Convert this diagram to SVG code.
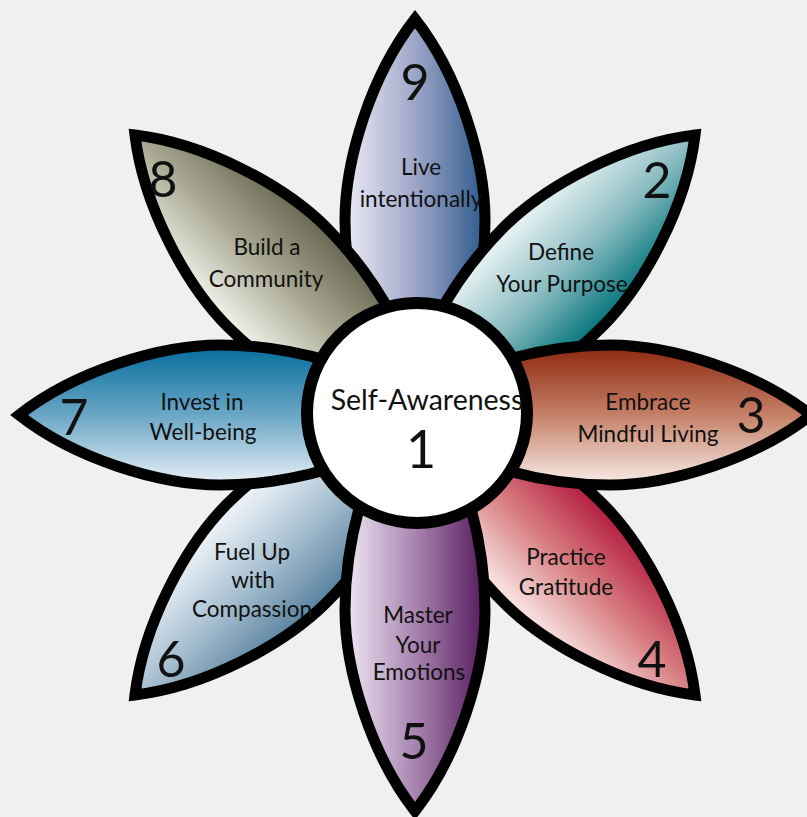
<svg xmlns="http://www.w3.org/2000/svg" width="807" height="817" viewBox="0 0 807 817">
  <defs>
    <style>
      .petal { stroke: #000; stroke-width: 11; stroke-linejoin: miter; stroke-miterlimit: 10; }
      .hub { fill: #fff; stroke: #000; stroke-width: 12; }
      text { font-family: "Lato", "Open Sans", sans-serif; fill: #111; text-anchor: middle; }
      .lbl { font-size: 22.5px; }
      .num { font-size: 50px; }
      .core { font-size: 28.5px; }
      .corenum { font-size: 52px; }
    </style>
    <!-- one petal, pointing up from the flower centre -->
    <path id="petal" d="M 0,-396 C 44,-340 70,-255 70,-195 C 70,-130 50,-40 0,20 C -50,-40 -70,-130 -70,-195 C -70,-255 -44,-340 0,-396 Z"/>
    <linearGradient id="g9" x1="0" y1="0" x2="1" y2="0">
      <stop offset="0" stop-color="#eceaf6"/>
      <stop offset="0.5" stop-color="#9ea6c8"/>
      <stop offset="1" stop-color="#2c5a8c"/>
    </linearGradient>
    <linearGradient id="g2" x1="0" y1="0" x2="1" y2="0">
      <stop offset="0" stop-color="#eef6f7"/>
      <stop offset="0.5" stop-color="#8fbfc4"/>
      <stop offset="1" stop-color="#00737a"/>
    </linearGradient>
    <linearGradient id="g3" x1="1" y1="0" x2="0" y2="0">
      <stop offset="0" stop-color="#f9ede8"/>
      <stop offset="0.5" stop-color="#c58068"/>
      <stop offset="1" stop-color="#8c260c"/>
    </linearGradient>
    <linearGradient id="g4" x1="1" y1="0" x2="0" y2="0">
      <stop offset="0" stop-color="#fcecec"/>
      <stop offset="0.5" stop-color="#d88284"/>
      <stop offset="1" stop-color="#b41a3e"/>
    </linearGradient>
    <linearGradient id="g5" x1="1" y1="0" x2="0" y2="0">
      <stop offset="0" stop-color="#f0e8f4"/>
      <stop offset="0.5" stop-color="#a884b0"/>
      <stop offset="1" stop-color="#561a5c"/>
    </linearGradient>
    <linearGradient id="g6" x1="1" y1="0" x2="0" y2="0">
      <stop offset="0" stop-color="#f4f7fb"/>
      <stop offset="0.5" stop-color="#a9c1d2"/>
      <stop offset="1" stop-color="#557f9c"/>
    </linearGradient>
    <linearGradient id="g7" x1="0" y1="0" x2="1" y2="0">
      <stop offset="0" stop-color="#eaf1f7"/>
      <stop offset="0.5" stop-color="#6aa6c6"/>
      <stop offset="1" stop-color="#036c9a"/>
    </linearGradient>
    <linearGradient id="g8" x1="0" y1="0" x2="1" y2="0">
      <stop offset="0" stop-color="#f4f4ee"/>
      <stop offset="0.5" stop-color="#a9a993"/>
      <stop offset="1" stop-color="#666650"/>
    </linearGradient>
  </defs>

  <rect width="807" height="817" fill="#eff1f0"/>

  <g id="flower">
    <g id="petal-9">
      <use href="#petal" class="petal" fill="url(#g9)" transform="translate(415,415)"/>
      <text class="num" x="415" y="100">9</text>
      <text class="lbl" x="421" y="175">Live</text>
      <text class="lbl" x="421" y="207">intentionally</text>
    </g>
    <g id="petal-2">
      <use href="#petal" class="petal" fill="url(#g2)" transform="translate(415,415) rotate(45)"/>
      <text class="num" x="657" y="198">2</text>
      <text class="lbl" x="561" y="260">Define</text>
      <text class="lbl" x="562" y="292">Your Purpose</text>
    </g>
    <g id="petal-8">
      <use href="#petal" class="petal" fill="url(#g8)" transform="translate(415,415) rotate(315)"/>
      <text class="num" x="163" y="197">8</text>
      <text class="lbl" x="267" y="255">Build a</text>
      <text class="lbl" x="266" y="287">Community</text>
    </g>
    <g id="petal-4">
      <use href="#petal" class="petal" fill="url(#g4)" transform="translate(415,415) rotate(135)"/>
      <text class="num" x="652" y="677">4</text>
      <text class="lbl" x="566" y="565">Practice</text>
      <text class="lbl" x="566" y="595">Gratitude</text>
    </g>
    <g id="petal-6">
      <use href="#petal" class="petal" fill="url(#g6)" transform="translate(415,415) rotate(225)"/>
      <text class="num" x="171" y="677">6</text>
      <text class="lbl" x="252" y="560">Fuel Up</text>
      <text class="lbl" x="253" y="588">with</text>
      <text class="lbl" x="252" y="617">Compassion</text>
    </g>
    <g id="petal-3">
      <use href="#petal" class="petal" fill="url(#g3)" transform="translate(415,415) rotate(90)"/>
      <text class="num" x="751" y="433">3</text>
      <text class="lbl" x="648" y="410">Embrace</text>
      <text class="lbl" x="648" y="442">Mindful Living</text>
    </g>
    <g id="petal-7">
      <use href="#petal" class="petal" fill="url(#g7)" transform="translate(415,415) rotate(270)"/>
      <text class="num" x="74" y="435">7</text>
      <text class="lbl" x="202" y="410">Invest in</text>
      <text class="lbl" x="203" y="440">Well-being</text>
    </g>
    <g id="petal-5">
      <use href="#petal" class="petal" fill="url(#g5)" transform="translate(415,415) rotate(180)"/>
      <text class="num" x="414" y="759">5</text>
      <text class="lbl" x="418" y="623">Master</text>
      <text class="lbl" x="418" y="653">Your</text>
      <text class="lbl" x="419" y="680">Emotions</text>
    </g>
    <g id="hub">
      <circle class="hub" cx="417" cy="413" r="110"/>
      <text class="core" x="427" y="410">Self-Awareness</text>
      <text class="corenum" x="421" y="468">1</text>
    </g>
  </g>
</svg>
